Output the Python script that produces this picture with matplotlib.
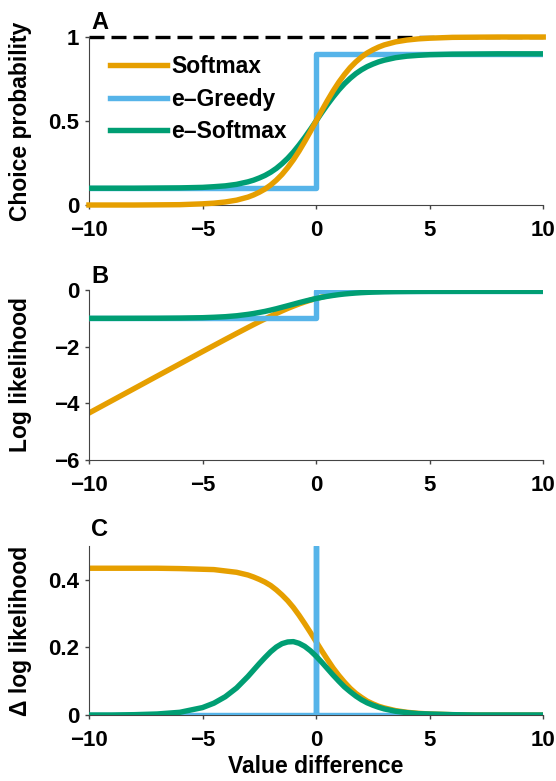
import matplotlib.pyplot as plt

plt.rcParams['font.family'] = ['Liberation Sans', 'DejaVu Sans']
plt.rcParams['font.weight'] = 'bold'

# value difference grid
x = [-10, -9, -8, -7, -6, -5, -4.5, -4, -3.5, -3,
     -2.75, -2.5, -2.25, -2, -1.75, -1.5, -1.25, -1, -0.75, -0.5, -0.25, 0,
     0.25, 0.5, 0.75, 1, 1.25, 1.5, 1.75, 2, 2.25, 2.5, 2.75,
     3, 3.5, 4, 4.5, 5, 6, 7, 8, 9, 10]

# A: choice probability
softmax_p = [0.000, 0.000, 0.000, 0.001, 0.002, 0.007, 0.011, 0.018, 0.029, 0.047,
             0.060, 0.076, 0.095, 0.119, 0.148, 0.182, 0.223, 0.269, 0.321, 0.378, 0.438, 0.500,
             0.562, 0.622, 0.679, 0.731, 0.777, 0.818, 0.852, 0.881, 0.905, 0.924, 0.940,
             0.953, 0.971, 0.982, 0.989, 0.993, 0.998, 0.999, 1.000, 1.000, 1.000]
esoftmax_p = [0.100, 0.100, 0.100, 0.101, 0.102, 0.105, 0.109, 0.114, 0.123, 0.138,
              0.148, 0.161, 0.176, 0.195, 0.218, 0.246, 0.278, 0.315, 0.357, 0.402, 0.450, 0.500,
              0.550, 0.598, 0.643, 0.685, 0.722, 0.754, 0.782, 0.805, 0.824, 0.839, 0.852,
              0.862, 0.877, 0.886, 0.891, 0.895, 0.898, 0.899, 0.900, 0.900, 0.900]
greedy_x = [-10, 0, 0, 10]
greedy_p = [0.1, 0.1, 0.9, 0.9]

# B: log likelihood
softmax_ll = [-4.343, -3.909, -3.475, -3.040, -2.607, -2.174, -1.959, -1.745, -1.533, -1.324,
              -1.221, -1.120, -1.021, -0.924, -0.830, -0.739, -0.652, -0.570, -0.494, -0.423, -0.359, -0.301,
              -0.250, -0.206, -0.168, -0.136, -0.109, -0.087, -0.070, -0.055, -0.043, -0.034, -0.027,
              -0.021, -0.013, -0.008, -0.005, -0.003, -0.001, 0.000, 0.000, 0.000, 0.000]
esoftmax_ll = [-1.000, -1.000, -0.999, -0.997, -0.991, -0.978, -0.963, -0.943, -0.910, -0.860,
               -0.830, -0.793, -0.755, -0.710, -0.662, -0.609, -0.556, -0.502, -0.447, -0.396, -0.347, -0.301,
               -0.260, -0.223, -0.192, -0.164, -0.141, -0.123, -0.107, -0.094, -0.084, -0.076, -0.070,
               -0.064, -0.057, -0.053, -0.050, -0.048, -0.047, -0.046, -0.046, -0.046, -0.046]
greedy_ll = [-1.0, -1.0, -0.046, -0.046]

# C: delta log likelihood
softmax_d = [0.434, 0.434, 0.434, 0.434, 0.433, 0.431, 0.430, 0.426, 0.422, 0.414,
             0.408, 0.401, 0.393, 0.383, 0.370, 0.355, 0.338, 0.318, 0.295, 0.270, 0.244, 0.217,
             0.190, 0.164, 0.139, 0.117, 0.097, 0.079, 0.064, 0.052, 0.041, 0.033, 0.026,
             0.021, 0.013, 0.008, 0.005, 0.003, 0.001, 0.000, 0.000, 0.000, 0.000]
esoftmax_d = [0.000, 0.000, 0.001, 0.003, 0.008, 0.022, 0.035, 0.054, 0.080, 0.114,
              0.133, 0.152, 0.170, 0.187, 0.201, 0.211, 0.216, 0.217, 0.212, 0.203, 0.190, 0.174,
              0.156, 0.137, 0.118, 0.100, 0.083, 0.069, 0.056, 0.045, 0.036, 0.029, 0.023,
              0.018, 0.011, 0.007, 0.004, 0.003, 0.001, 0.000, 0.000, 0.000, 0.000]
greedy_dx = [-10, 0, 0, 0, 10]
greedy_d = [0.0, 0.0, 0.5, 0.0, 0.0]

orange = '#E69F00'
blue = '#56B4E9'
green = '#009E73'
lw = 3.9
fs = 16.5

fig = plt.figure(figsize=(5.56, 7.81), dpi=100)
axA = fig.add_axes([0.160, 0.7375, 0.817, 0.2151])
axB = fig.add_axes([0.160, 0.411, 0.817, 0.2177])
axC = fig.add_axes([0.160, 0.0845, 0.817, 0.2165])

def style(ax):
    ax.spines['top'].set_visible(False)
    ax.spines['right'].set_visible(False)
    for s in ('left', 'bottom'):
        ax.spines[s].set_color('#444444')
    ax.set_xlim(-10, 10)
    ax.set_xticks([-10, -5, 0, 5, 10])
    ax.tick_params(labelsize=16, length=3, width=1, color='#444444', direction='out')
    ax.tick_params(axis='x', pad=8)
    ax.tick_params(axis='y', pad=4)
    for lab in ax.get_xticklabels() + ax.get_yticklabels():
        lab.set_fontweight('bold')

# A
axA.axhline(1, color='black', lw=2.4, ls=(0, (4.5, 2.1)), zorder=1, clip_on=False)
axA.plot(greedy_x, greedy_p, color=blue, lw=lw, label='e\u2013Greedy', zorder=2)
axA.plot(x, esoftmax_p, color=green, lw=lw, label='e\u2013Softmax', zorder=3)
axA.plot(x, softmax_p, color=orange, lw=lw, label='Softmax', zorder=4, clip_on=False)
axA.set_ylim(0, 1)
axA.set_yticks([0, 0.5, 1])
axA.set_yticklabels(['0', '0.5', '1'])
style(axA)
h, l = axA.get_legend_handles_labels()
order = [2, 0, 1]
axA.legend([h[i] for i in order], [l[i] for i in order], loc='upper left',
           bbox_to_anchor=(0.046, 0.89), frameon=False, fontsize=fs, handlelength=2.5,
           handletextpad=0.17, labelspacing=0.4, borderaxespad=0, borderpad=0)
axA.set_ylabel('Choice probability', fontsize=fs, fontweight='bold')
axA.yaxis.set_label_coords(-0.125, 0.5)
axA.text(0.005, 1.015, 'A', transform=axA.transAxes, fontsize=17, fontweight='bold', va='bottom')

# B
axB.plot(x, softmax_ll, color=orange, lw=lw, zorder=2)
axB.plot(greedy_x, greedy_ll, color=blue, lw=lw, zorder=3)
axB.plot(x, esoftmax_ll, color=green, lw=lw, zorder=4)
axB.set_ylim(-6, 0)
axB.set_yticks([-6, -4, -2, 0])
style(axB)
axB.set_ylabel('Log likelihood', fontsize=fs, fontweight='bold')
axB.yaxis.set_label_coords(-0.125, 0.5)
axB.text(0.005, 1.01, 'B', transform=axB.transAxes, fontsize=17, fontweight='bold', va='bottom')

# C
axC.plot(x, softmax_d, color=orange, lw=lw, zorder=2)
axC.plot(greedy_dx, greedy_d, color=blue, lw=lw, zorder=3)
axC.plot(x, esoftmax_d, color=green, lw=lw, zorder=4)
axC.set_ylim(0, 0.5)
axC.set_yticks([0, 0.2, 0.4])
axC.set_yticklabels(['0', '0.2', '0.4'])
style(axC)
axC.set_ylabel('\u0394 log likelihood', fontsize=fs, fontweight='bold')
axC.yaxis.set_label_coords(-0.125, 0.5)
axC.set_xlabel('Value difference', fontsize=fs, fontweight='bold')
axC.xaxis.set_label_coords(0.5, -0.235)
axC.text(0.005, 1.03, 'C', transform=axC.transAxes, fontsize=17, fontweight='bold', va='bottom')

fig.savefig('out.png', dpi=100)
